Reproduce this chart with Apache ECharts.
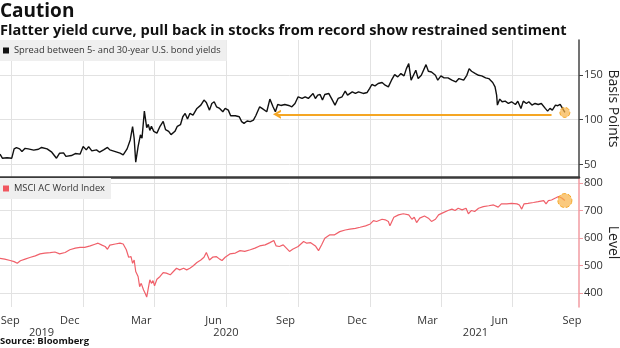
<!DOCTYPE html>
<html>
<head>
<meta charset="utf-8">
<script src="https://cdn.jsdelivr.net/npm/echarts@6/dist/echarts.min.js"></script>
<style>
html,body{margin:0;padding:0;background:#fff;}
#chart{width:620px;height:348px;}
</style>
</head>
<body>
<div id="chart"></div>
<script>
// ---------- DATA ----------
const spreadName = 'Spread between 5- and 30-year U.S. bond yields';
const msciName = 'MSCI AC World Index';

const spreadDates = ['2019-09-17','2019-09-20','2019-09-26','2019-10-02','2019-10-05','2019-10-08','2019-10-12','2019-10-15','2019-10-19','2019-10-23','2019-10-30','2019-11-05','2019-11-09','2019-11-16','2019-11-22','2019-11-28','2019-12-02','2019-12-07','2019-12-10','2019-12-17','2019-12-22','2019-12-28','2020-01-01','2020-01-05','2020-01-08','2020-01-12','2020-01-18','2020-01-22','2020-01-27','2020-02-01','2020-02-04','2020-02-11','2020-02-17','2020-02-21','2020-02-26','2020-03-01','2020-03-04','2020-03-06','2020-03-08','2020-03-11','2020-03-14','2020-03-16','2020-03-19','2020-03-22','2020-03-24','2020-03-26','2020-03-28','2020-03-31','2020-04-04','2020-04-08','2020-04-12','2020-04-15','2020-04-19','2020-04-22','2020-04-24','2020-04-27','2020-04-30','2020-05-04','2020-05-07','2020-05-10','2020-05-13','2020-05-16','2020-05-20','2020-05-25','2020-05-30','2020-06-03','2020-06-06','2020-06-10','2020-06-13','2020-06-16','2020-06-19','2020-06-23','2020-06-27','2020-06-30','2020-07-04','2020-07-07','2020-07-13','2020-07-18','2020-07-21','2020-07-24','2020-07-28','2020-08-01','2020-08-05','2020-08-08','2020-08-13','2020-08-16','2020-08-18','2020-08-22','2020-08-26','2020-08-30','2020-09-02','2020-09-05','2020-09-09','2020-09-14','2020-09-19','2020-09-23','2020-09-27','2020-10-01','2020-10-06','2020-10-10','2020-10-14','2020-10-20','2020-10-23','2020-10-26','2020-10-29','2020-11-01','2020-11-04','2020-11-09','2020-11-13','2020-11-17','2020-11-21','2020-11-26','2020-11-30','2020-12-03','2020-12-09','2020-12-13','2020-12-17','2020-12-23','2020-12-28','2020-12-31','2021-01-03','2021-01-07','2021-01-11','2021-01-16','2021-01-20','2021-01-24','2021-01-28','2021-02-01','2021-02-05','2021-02-09','2021-02-13','2021-02-16','2021-02-19','2021-02-22','2021-02-25','2021-02-28','2021-03-03','2021-03-07','2021-03-13','2021-03-16','2021-03-20','2021-03-25','2021-03-28','2021-04-01','2021-04-05','2021-04-10','2021-04-15','2021-04-20','2021-04-24','2021-04-30','2021-05-04','2021-05-07','2021-05-10','2021-05-15','2021-05-19','2021-05-23','2021-05-28','2021-06-01','2021-06-06','2021-06-09','2021-06-11','2021-06-12','2021-06-15','2021-06-18','2021-06-22','2021-06-26','2021-06-30','2021-07-05','2021-07-08','2021-07-12','2021-07-15','2021-07-19','2021-07-22','2021-07-26','2021-07-30','2021-08-03','2021-08-07','2021-08-12','2021-08-15','2021-08-18','2021-08-21','2021-08-25','2021-08-28','2021-08-31','2021-09-03','2021-09-06'];
const spreadValues = [61.5,57,57.5,57,67.4,68.9,67.4,64.4,68,67.4,66,67,69,67.4,63.7,57,62.6,63,59,60,62.2,61.5,70,66.3,70,65.2,66.3,63.7,66.3,69,66.3,64.4,62.6,60.7,67.4,77.4,92.2,79.3,52.6,70,83,79.3,109.6,91,94.8,88,92.6,87,85,92.6,98.1,88.9,87,83.3,81.5,87,92.6,94.4,103.3,107,100.7,107,105,112.6,116.3,121.9,119.3,110.7,118.1,120,114.4,112.6,108.9,112.6,110.7,104.4,104.4,103.3,97.8,95.9,98.5,97.8,99.6,104.4,114.4,112.6,110.7,108.9,123,114.4,108.9,117,115.9,117,115.9,114.4,118.1,125.6,123.7,125.6,123.7,129.3,123.7,127.4,128.1,121.9,128.1,129.3,123,116.3,123.7,125.6,131.9,127.4,131.1,129.3,131.1,129.3,130.4,134.8,139.3,137.8,140.4,141.5,138.5,136.7,144.1,150.4,147.8,151.5,148.9,157,162.6,144.1,149.6,155.2,145.9,149.6,161.5,154.1,153.3,149.6,144.1,148.9,146.7,146.7,144.1,142.2,145.9,144.1,149.6,157,154.1,151.5,149.6,148.9,146.7,145.9,141.5,136.7,127.4,116.3,123,120,120.7,118.1,120,117,120.7,112.6,120.7,118.1,120,116.3,118.1,117,118.1,112.6,109.6,112.6,110.7,116.3,115.6,117,112.6,108.1];

const msciDates = ['2019-09-17','2019-09-23','2019-09-30','2019-10-05','2019-10-09','2019-10-13','2019-10-19','2019-10-25','2019-11-01','2019-11-07','2019-11-13','2019-11-20','2019-11-26','2019-12-02','2019-12-09','2019-12-15','2019-12-22','2019-12-28','2020-01-03','2020-01-10','2020-01-16','2020-01-20','2020-01-25','2020-01-29','2020-02-01','2020-02-04','2020-02-11','2020-02-17','2020-02-21','2020-02-25','2020-02-28','2020-03-02','2020-03-04','2020-03-06','2020-03-08','2020-03-11','2020-03-13','2020-03-15','2020-03-18','2020-03-20','2020-03-22','2020-03-24','2020-03-26','2020-03-28','2020-03-30','2020-04-01','2020-04-04','2020-04-08','2020-04-12','2020-04-16','2020-04-21','2020-04-25','2020-04-29','2020-05-03','2020-05-08','2020-05-12','2020-05-16','2020-05-20','2020-05-25','2020-05-30','2020-06-03','2020-06-06','2020-06-10','2020-06-14','2020-06-19','2020-06-23','2020-06-26','2020-06-30','2020-07-06','2020-07-13','2020-07-19','2020-07-25','2020-08-01','2020-08-07','2020-08-13','2020-08-20','2020-08-26','2020-08-31','2020-09-03','2020-09-07','2020-09-12','2020-09-16','2020-09-20','2020-09-24','2020-10-01','2020-10-08','2020-10-12','2020-10-17','2020-10-23','2020-10-27','2020-10-31','2020-11-04','2020-11-10','2020-11-16','2020-11-23','2020-11-30','2020-12-06','2020-12-13','2020-12-19','2020-12-26','2021-01-01','2021-01-05','2021-01-09','2021-01-16','2021-01-20','2021-01-24','2021-01-26','2021-01-31','2021-02-06','2021-02-12','2021-02-19','2021-02-23','2021-02-26','2021-03-01','2021-03-05','2021-03-11','2021-03-16','2021-03-20','2021-03-25','2021-03-29','2021-04-04','2021-04-10','2021-04-15','2021-04-19','2021-04-23','2021-04-28','2021-05-03','2021-05-06','2021-05-10','2021-05-14','2021-05-19','2021-05-25','2021-06-01','2021-06-07','2021-06-13','2021-06-17','2021-06-24','2021-06-30','2021-07-07','2021-07-10','2021-07-13','2021-07-16','2021-07-21','2021-07-28','2021-08-03','2021-08-10','2021-08-13','2021-08-16','2021-08-20','2021-08-25','2021-08-29','2021-09-02','2021-09-06'];
const msciValues = [527,524,519,515,509,518,524,530,536,543,546,548,550,543,548,558,564,567,567,572,578,582,575,570,560,575,579,582,579,558,531,533,509,521,479,461,424,436,412,400,386,418,449,436,446,427,451,461,475,473,467,479,491,485,491,485,491,499,512,521,531,548,521,531,533,524,519,531,543,546,555,552,558,564,572,576,584,592,572,570,576,564,552,560,570,588,582,584,572,555,576,600,612,612,624,630,633,636,640,645,652,664,661,669,667,661,645,676,685,689,685,669,676,657,673,681,673,661,669,685,693,701,706,701,709,703,709,689,701,697,709,715,718,721,713,725,725,727,725,721,706,725,727,730,733,737,725,737,739,746,752,746,737];

// annotation arrow (date, basis points)
const arrowStart = ['2020-09-04', 106];
const arrowEnd = ['2021-08-20', 106];

// axes
const xMin = '2019-09-17';
const xMax = '2021-09-24';
const gridDates = ['2019-10-01','2020-01-01','2020-04-01','2020-07-01','2020-10-01','2021-01-01','2021-04-01','2021-07-01'];
const monthLabelDates = ['2019-09-30','2019-12-15','2020-03-15','2020-06-15','2020-09-15','2020-12-15','2021-03-15','2021-06-15','2021-09-15'];
const monthNames = ['Jan','Feb','Mar','Apr','May','Jun','Jul','Aug','Sep','Oct','Nov','Dec'];
const yearLabelDates = ['2019-11-09','2020-07-01','2021-05-15'];
const spreadTicks = [50, 100, 150];
const msciTicks = [400, 500, 600, 700, 800];

// ---------- CHART ----------
const FONT = 'Open Sans';
const ts = d => Date.parse(d + 'T00:00:00Z');
const chart = echarts.init(document.getElementById('chart'), null, {renderer: 'canvas'});
const spreadData = spreadDates.map((d, i) => [ts(d), spreadValues[i]]);
const msciData = msciDates.map((d, i) => [ts(d), msciValues[i]]);
const gridLineStyle = {color: '#e2e2e2', width: 1};
const chevron = 'path://M0,10 L5,0 L10,10 L7.6,10 L5,5 L2.4,10 Z';
const circleStyle = {color: 'rgba(248,178,70,0.7)', borderColor: '#f5a623', borderWidth: 1, borderType: 'dashed'};

const option = {
  animation: false,
  textStyle: {fontFamily: FONT},
  title: [
    {text: 'Caution', left: 0, top: 2, padding: 0,
     textStyle: {fontFamily: FONT, fontWeight: 'bold', fontSize: 19, color: '#111'}},
    {text: 'Flatter yield curve, pull back in stocks from record show restrained sentiment', left: 0, top: 23, padding: 0,
     textStyle: {fontFamily: FONT, fontWeight: 'bold', fontSize: 14.6, color: '#111'}},
    {text: 'Source: Bloomberg', left: 0, top: 336, padding: 0,
     textStyle: {fontFamily: FONT, fontWeight: 'bold', fontSize: 9.5, color: '#111'}}
  ],
  legend: [
    {data: [spreadName], left: 0, top: 40, padding: [6, 6, 6, 3], backgroundColor: '#efefef',
     icon: 'rect', itemWidth: 6, itemHeight: 6, selectedMode: false,
     textStyle: {fontFamily: FONT, fontSize: 9.3, color: '#333'}},
    {data: [msciName], left: 0, top: 178, padding: [6, 6, 6, 3], backgroundColor: '#efefef',
     icon: 'rect', itemWidth: 6, itemHeight: 6, selectedMode: false,
     textStyle: {fontFamily: FONT, fontSize: 9.3, color: '#333'}}
  ],
  grid: [
    {left: 0, right: 41, top: 40, height: 137, containLabel: false, outerBoundsMode: 'none'},
    {left: 0, right: 41, top: 178, height: 129, containLabel: false, outerBoundsMode: 'none'}
  ],
  xAxis: [
    {gridIndex: 0, type: 'value', min: ts(xMin), max: ts(xMax),
     axisLine: {show: true, lineStyle: {color: '#3a3a3a', width: 2.5}},
     axisTick: {show: false, customValues: gridDates.map(ts)},
     axisLabel: {show: false},
     splitLine: {show: true, lineStyle: gridLineStyle}},
    {gridIndex: 1, type: 'value', position: 'bottom', min: ts(xMin), max: ts(xMax),
     axisLine: {show: false},
     axisTick: {show: false, customValues: gridDates.map(ts)},
     axisLabel: {show: true, customValues: monthLabelDates.map(ts), margin: 8, fontSize: 11, color: '#333', fontFamily: FONT,
       formatter: v => monthNames[new Date(v).getUTCMonth()]},
     splitLine: {show: true, lineStyle: gridLineStyle}},
    {gridIndex: 1, type: 'value', position: 'bottom', offset: 12, min: ts(xMin), max: ts(xMax),
     axisLine: {show: false},
     axisTick: {show: false, customValues: yearLabelDates.map(ts)},
     axisLabel: {show: true, customValues: yearLabelDates.map(ts), margin: 8, fontSize: 11, color: '#333', fontFamily: FONT,
       formatter: v => String(new Date(v).getUTCFullYear())},
     splitLine: {show: false}}
  ],
  yAxis: [
    {gridIndex: 0, type: 'value', position: 'right', min: 36, max: 189,
     axisLine: {show: true, lineStyle: {color: '#444', width: 1.5}},
     axisTick: {show: true, length: 4, customValues: spreadTicks, lineStyle: {color: '#444'}},
     axisLabel: {customValues: spreadTicks, margin: 5, fontSize: 11, color: '#333', fontFamily: FONT},
     splitLine: {show: true, lineStyle: gridLineStyle},
     name: 'Basis Points', nameLocation: 'middle', nameRotate: -90, nameGap: 27, nameMoveOverlap: false,
     nameTextStyle: {fontSize: 14, color: '#222', fontFamily: FONT}},
    {gridIndex: 1, type: 'value', position: 'right', min: 350, max: 819,
     axisLine: {show: true, lineStyle: {color: '#f29ba2', width: 1.5}},
     axisTick: {show: true, length: 4, customValues: msciTicks, lineStyle: {color: '#f29ba2'}},
     axisLabel: {customValues: msciTicks, margin: 5, fontSize: 11, color: '#333', fontFamily: FONT},
     splitLine: {show: true, lineStyle: gridLineStyle},
     name: 'Level', nameLocation: 'middle', nameRotate: -90, nameGap: 27, nameMoveOverlap: false,
     nameTextStyle: {fontSize: 14, color: '#222', fontFamily: FONT}}
  ],
  series: [
    {name: spreadName, type: 'line', xAxisIndex: 0, yAxisIndex: 0, data: spreadData,
     showSymbol: false, symbol: 'none', color: '#111',
     lineStyle: {color: '#111', width: 1.4},
     markLine: {silent: true, symbol: [chevron, 'none'], symbolSize: [9, 8],
       lineStyle: {color: '#f5a623', width: 2, type: 'solid'}, label: {show: false},
       data: [[{coord: [ts(arrowStart[0]), arrowStart[1]]}, {coord: [ts(arrowEnd[0]), arrowEnd[1]]}]]},
     markPoint: {silent: true, symbol: 'circle', symbolSize: 10, label: {show: false},
       itemStyle: circleStyle, data: [{coord: spreadData[spreadData.length - 1]}]}},
    {name: msciName, type: 'line', xAxisIndex: 1, yAxisIndex: 1, data: msciData,
     showSymbol: false, symbol: 'none', color: '#f0565f',
     lineStyle: {color: '#f0606a', width: 1.2},
     markPoint: {silent: true, symbol: 'circle', symbolSize: 14, label: {show: false},
       itemStyle: circleStyle, data: [{coord: msciData[msciData.length - 1]}]}}
  ]
};
chart.setOption(option);
</script>
</body>
</html>
